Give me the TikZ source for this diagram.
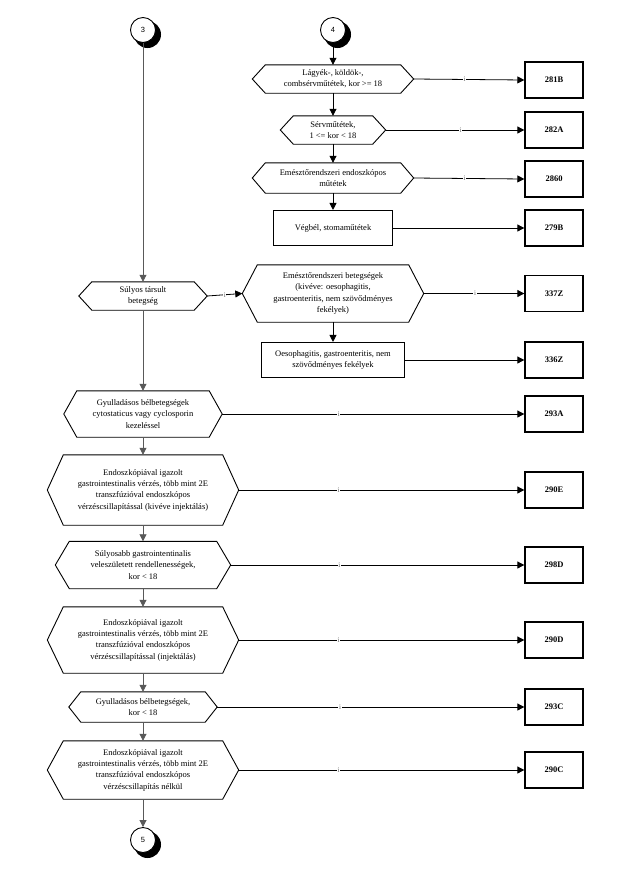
\documentclass[tikz,border=0pt]{standalone}
\usepackage{fontspec}
\setmainfont{Liberation Serif}
\newfontfamily\numfont{Liberation Sans}
\usetikzlibrary{arrows.meta}
\begin{document}
\begin{tikzpicture}[x=1pt,y=-1pt,
  txt/.style={font=\fontsize{8.5}{11.3}\selectfont, align=center, inner sep=0pt},
  rbox/.style={txt, draw, line width=1.1pt},
  codebox/.style={draw, line width=1.3pt, minimum width=58, minimum height=36, inner sep=0pt, font=\fontsize{8.5}{10}\selectfont\bfseries},
  circ/.style={circle, draw, line width=0.9pt, fill=white, minimum size=25, inner sep=0pt, font=\numfont\fontsize{7.5}{8}\selectfont},
  shadowc/.style={fill=black},
  arr/.style={-{Triangle[length=7pt,width=7pt]}, line width=0.8pt},
  varrL/.style={arr, draw=black!65, fill=black!65},
  lbl/.style={fill=white, inner sep=0.6pt, font=\fontsize{7}{7}\selectfont, text=black!60},
  hexline/.style={line width=0.9pt}
]
\useasboundingbox (0,0) rectangle (624,884);

% connector circles with shadows
\fill[shadowc] (147.5,34.5) circle[radius=13.5];
\fill[shadowc] (337.5,34.5) circle[radius=13.5];
\fill[shadowc] (147.5,844.5) circle[radius=13.5];
\node[circ] (C3) at (143,30) {3};
\node[circ] (C4) at (333,30) {4};
\node[circ] (C5) at (143,840) {5};

% right column
\node[txt, minimum width=161, minimum height=28] (R1) at (333,79) {Lágyék-, köldök-,\\combsérvműtétek, kor >= 18};
\node[txt, minimum width=105, minimum height=28] (R2) at (333,130) {Sérvműtétek,\\1 <= kor < 18};
\node[txt, minimum width=161, minimum height=30] (R3) at (333,178) {Emésztőrendszeri endoszkópos\\műtétek};
\node[rbox, minimum width=119, minimum height=35] (R4) at (333,228) {Végbél, stomaműtétek};
\node[txt, minimum width=181, minimum height=57] (BH) at (333,293.5) {Emésztőrendszeri betegségek\\(kivéve: oesophagitis,\\gastroenteritis, nem szövődményes\\fekélyek)};
\node[rbox, minimum width=143, minimum height=35] (O) at (333,360) {Oesophagitis, gastroenteritis, nem\\szövődményes fekélyek};

% left column
\node[txt, minimum width=128, minimum height=28] (S) at (143,296) {Súlyos társult\\betegség};
\node[txt, minimum width=158, minimum height=46] (G1) at (143,414) {Gyulladásos bélbetegségek\\cytostaticus vagy cyclosporin\\kezeléssel};
\node[txt, minimum width=191, minimum height=70] (E1) at (143,490) {Endoszkópiával igazolt\\gastrointestinalis vérzés, több mint 2E\\transzfúzióval endoszkópos\\vérzéscsillapítással (kivéve injektálás)};
\node[txt, minimum width=175, minimum height=47] (S2) at (143,565) {Súlyosabb gastrointentinalis\\veleszületett rendellenességek,\\kor < 18};
\node[txt, minimum width=191, minimum height=66] (E2) at (143,640) {Endoszkópiával igazolt\\gastrointestinalis vérzés, több mint 2E\\transzfúzióval endoszkópos\\vérzéscsillapítással (injektálás)};
\node[txt, minimum width=148, minimum height=30] (G2) at (143,707) {Gyulladásos bélbetegségek,\\kor < 18};
\node[txt, minimum width=191, minimum height=58] (E3) at (143,770) {Endoszkópiával igazolt\\gastrointestinalis vérzés, több mint 2E\\transzfúzióval endoszkópos\\vérzéscsillapítás nélkül};

% hexagon outlines
\foreach \n/\d in {R1/13,R2/13,R3/13,BH/15,S/13,G1/13,E1/16,S2/14,E2/16,G2/12,E3/16}{
  \draw[hexline] (\n.west) -- ([xshift=\d pt]\n.north west) -- ([xshift=-\d pt]\n.north east)
    -- (\n.east) -- ([xshift=-\d pt]\n.south east) -- ([xshift=\d pt]\n.south west) -- cycle;
}

% result boxes
\node[codebox] (B281B) at (554,80) {281B};
\node[codebox] (B282A) at (554,130) {282A};
\node[codebox] (B2860) at (554,179) {2860};
\node[codebox] (B279B) at (554,228) {279B};
\node[codebox] (B337Z) at (554,293.5) {337Z};
\node[codebox] (B336Z) at (554,360) {336Z};
\node[codebox] (B293A) at (554,414) {293A};
\node[codebox] (B290E) at (554,490) {290E};
\node[codebox] (B298D) at (554,565) {298D};
\node[codebox] (B290D) at (554,640) {290D};
\node[codebox] (B293C) at (554,707) {293C};
\node[codebox] (B290C) at (554,770) {290C};

% vertical connectors right
\draw[arr] (C4.south) -- (R1.north);
\draw[arr] (R1.south) -- (R2.north);
\draw[arr] (R2.south) -- (R3.north);
\draw[arr] (R3.south) -- (R4.north);
\draw[arr] (BH.south) -- (O.north);

% vertical connectors left
\draw[varrL] (C3.south) -- (S.north);
\draw[varrL] (S.south) -- (G1.north);
\draw[varrL] (G1.south) -- (E1.north);
\draw[varrL] (E1.south) -- (S2.north);
\draw[varrL] (S2.south) -- (E2.north);
\draw[varrL] (E2.south) -- (G2.north);
\draw[varrL] (G2.south) -- (E3.north);
\draw[varrL] (E3.south) -- (C5.north);

% horizontal connectors
\draw[arr] (R1.east) -- node[lbl, pos=.46] {i} (B281B.west);
\draw[arr] (R2.east) -- node[lbl, pos=.54] {i} (B282A.west);
\draw[arr] (R3.east) -- node[lbl, pos=.46] {i} (B2860.west);
\draw[arr] (R4.east) -- (B279B.west);
\draw[arr] (S.east) -- node[lbl, pos=.5] {i} (BH.west);
\draw[arr] (BH.east) -- node[lbl, pos=.51] {i} (B337Z.west);
\draw[arr] (O.east) -- (B336Z.west);
\draw[arr] (G1.east) -- node[lbl, pos=.386] {i} (B293A.west);
\draw[arr] (E1.east) -- node[lbl, pos=.35] {i} (B290E.west);
\draw[arr] (S2.east) -- node[lbl, pos=.37] {i} (B298D.west);
\draw[arr] (E2.east) -- node[lbl, pos=.35] {i} (B290D.west);
\draw[arr] (G2.east) -- node[lbl, pos=.40] {i} (B293C.west);
\draw[arr] (E3.east) -- node[lbl, pos=.35] {i} (B290C.west);
\end{tikzpicture}
\end{document}
